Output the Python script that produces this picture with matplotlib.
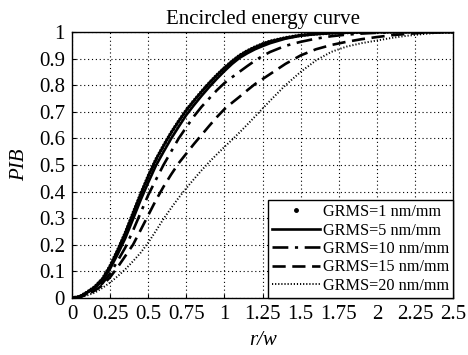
import matplotlib
matplotlib.use('Agg')
import matplotlib.pyplot as plt
from matplotlib.lines import Line2D

plt.rcParams['font.family'] = ['Liberation Serif', 'DejaVu Serif']

# r/w sample positions
r = [0.0, 0.05, 0.1, 0.15, 0.2, 0.25, 0.3, 0.35, 0.4, 0.45, 0.5, 0.55, 0.6, 0.65,
     0.7, 0.75, 0.8, 0.85, 0.9, 0.95, 1.0, 1.05, 1.1, 1.15, 1.2, 1.25, 1.3,
     1.4, 1.5, 1.6, 1.7, 1.8, 1.9, 2.0, 2.1, 2.2, 2.3, 2.4, 2.5]

pib_1 = [0.0, 0.005, 0.022, 0.042, 0.072, 0.12, 0.18, 0.245, 0.318, 0.39, 0.458, 0.52, 0.572, 0.621,
         0.665, 0.706, 0.742, 0.776, 0.808, 0.838, 0.865, 0.89, 0.912, 0.929, 0.943, 0.955, 0.965,
         0.978, 0.988, 0.993, 0.996, 0.998, 0.999, 1.0, 1.0, 1.0, 1.0, 1.0, 1.0]
pib_5 = [0.0, 0.005, 0.02, 0.038, 0.065, 0.11, 0.165, 0.225, 0.296, 0.368, 0.434, 0.497, 0.549, 0.599,
         0.644, 0.688, 0.725, 0.76, 0.793, 0.824, 0.853, 0.88, 0.903, 0.92, 0.935, 0.947, 0.958,
         0.975, 0.986, 0.992, 0.996, 0.998, 1.0, 1.0, 1.0, 1.0, 1.0, 1.0, 1.0]
pib_10 = [0.0, 0.004, 0.016, 0.032, 0.055, 0.092, 0.14, 0.19, 0.253, 0.32, 0.387, 0.444, 0.5, 0.55,
          0.6, 0.642, 0.683, 0.719, 0.75, 0.781, 0.808, 0.83, 0.851, 0.872, 0.892, 0.91, 0.925,
          0.948, 0.963, 0.975, 0.984, 0.99, 0.994, 0.997, 0.999, 1.0, 1.0, 1.0, 1.0]
pib_15 = [0.0, 0.003, 0.013, 0.028, 0.048, 0.078, 0.116, 0.158, 0.2, 0.255, 0.311, 0.367, 0.418, 0.464,
          0.507, 0.543, 0.579, 0.613, 0.647, 0.68, 0.71, 0.734, 0.757, 0.781, 0.804, 0.823, 0.842,
          0.88, 0.912, 0.935, 0.951, 0.963, 0.973, 0.981, 0.988, 0.993, 0.997, 0.999, 1.0]
pib_20 = [0.0, 0.003, 0.01, 0.02, 0.038, 0.058, 0.082, 0.108, 0.138, 0.17, 0.208, 0.252, 0.297, 0.338,
          0.377, 0.413, 0.447, 0.48, 0.511, 0.54, 0.568, 0.595, 0.623, 0.652, 0.682, 0.712, 0.742,
          0.80, 0.85, 0.893, 0.925, 0.945, 0.958, 0.968, 0.978, 0.986, 0.992, 0.997, 1.0]

labels = ['GRMS=1 nm/mm', 'GRMS=5 nm/mm', 'GRMS=10 nm/mm',
          'GRMS=15 nm/mm', 'GRMS=20 nm/mm']

dashdot = (0, (6, 2.5, 1.2, 2.5))
dashed = (0, (5, 2.5))
dotted = (0, (0.6, 1.0))

fig = plt.figure(figsize=(4.68, 3.55), dpi=100)
ax = fig.add_axes([0.1538, 0.1606, 0.8145, 0.7493])

# GRMS=1 drawn as a dense chain of dots
ax.plot(r, pib_1, color='k', lw=2.6, linestyle=(0, (0.05, 0.8)),
        dash_capstyle='round')
ax.plot(r, pib_5, color='k', lw=1.9, linestyle='-')
ax.plot(r, pib_10, color='k', lw=1.9, linestyle=dashdot)
ax.plot(r, pib_15, color='k', lw=1.9, linestyle=dashed)
ax.plot(r, pib_20, color='k', lw=1.4, linestyle=dotted)

handles = [
    Line2D([], [], color='k', marker='.', markersize=5, linestyle='none'),
    Line2D([], [], color='k', lw=1.9, linestyle='-'),
    Line2D([], [], color='k', lw=1.9, linestyle=dashdot),
    Line2D([], [], color='k', lw=1.9, linestyle=dashed),
    Line2D([], [], color='k', lw=1.4, linestyle=dotted),
]
leg = ax.legend(handles, labels, loc='lower right', fontsize=11.7,
                frameon=True, fancybox=False, borderaxespad=0.0,
                handlelength=2.9, handletextpad=0.2, labelspacing=0.15,
                borderpad=0.25)
leg.get_frame().set_edgecolor('k')
leg.get_frame().set_linewidth(1.0)
leg.get_frame().set_alpha(1.0)

ax.set_xlim(0, 2.5)
ax.set_ylim(0, 1)
xt = [0, 0.25, 0.5, 0.75, 1, 1.25, 1.5, 1.75, 2, 2.25, 2.5]
ax.set_xticks(xt)
ax.set_xticklabels(['0', '0.25', '0.5', '0.75', '1', '1.25', '1.5', '1.75', '2', '2.25', '2.5'])
yt = [0, 0.1, 0.2, 0.3, 0.4, 0.5, 0.6, 0.7, 0.8, 0.9, 1]
ax.set_yticks(yt)
ax.set_yticklabels(['0', '0.1', '0.2', '0.3', '0.4', '0.5', '0.6', '0.7', '0.8', '0.9', '1'])
ax.tick_params(direction='in', length=3, labelsize=15, colors='k')
ax.tick_params(axis='x', pad=5)
ax.tick_params(axis='y', pad=5)
ax.grid(True, color='k', linestyle=(0, (1, 2.5)), linewidth=0.8)
for s in ax.spines.values():
    s.set_linewidth(1.0)

ax.set_title('Encircled energy curve', fontsize=15, pad=6)
ax.set_xlabel('r/w', fontsize=15, style='italic', labelpad=5)
ax.set_ylabel('PIB', fontsize=15, style='italic', labelpad=7)

fig.savefig('out.png', dpi=100)
